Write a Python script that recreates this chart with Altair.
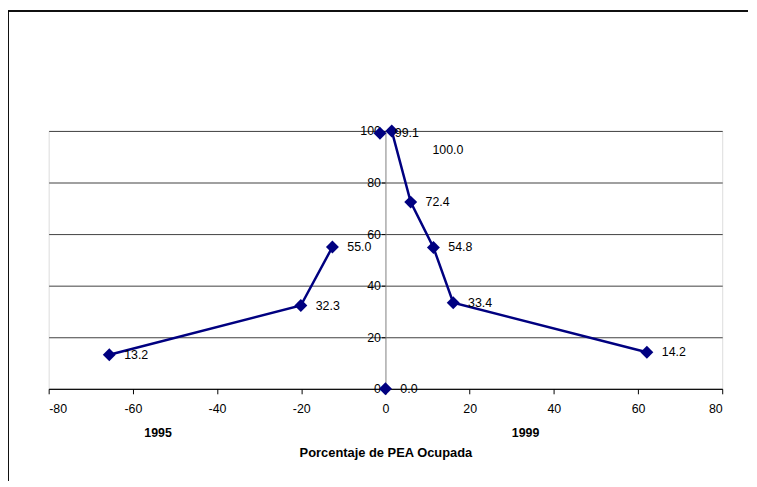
import altair as alt
import pandas as pd

x_vals = [-65.6, -20.1, -12.6, -1.3, 1.5, 6.0, 11.4, 16.1, 62.1, 0.0]
y_vals = [13.2, 32.3, 55.0, 99.1, 100.0, 72.4, 54.8, 33.4, 14.2, 0.0]
groups = ["a", "a", "a", "b", "c", "c", "c", "c", "c", "d"]
labels = ["13.2", "32.3", "55.0", "99.1", "100.0", "72.4", "54.8", "33.4", "14.2", "0.0"]
shifted = [False, False, False, False, True, False, False, False, False, False]
year_names = ["1995", "1999"]
year_pos = [-54.0, 33.3]

df = pd.DataFrame({"x": x_vals, "y": y_vals, "g": groups, "lab": labels,
                   "shift": shifted, "o": list(range(len(x_vals)))})
years = pd.DataFrame({"name": year_names, "x": year_pos})

W, H = 679, 260
FONT = "Liberation Sans"
FS = 12.5
NAVY = "#000080"

xs = alt.Scale(domain=[-80, 80], nice=False)
ys = alt.Scale(domain=[0, 100], nice=False)

base = alt.Chart(df)

frame_top = alt.Chart(years).mark_rule(color="#000000", strokeWidth=1.5).encode(
    x=alt.value(-41), x2=alt.value(W + 26), y=alt.value(-121)
)
frame_left = alt.Chart(years).mark_rule(color="#000000", strokeWidth=1.5).encode(
    x=alt.value(-41), y=alt.value(-121), y2=alt.value(H + 93)
)

line = base.mark_line(color=NAVY, strokeWidth=2.5).encode(
    x=alt.X("x:Q", scale=xs,
            axis=alt.Axis(title="Porcentaje de PEA Ocupada", values=list(range(-80, 81, 20)),
                          labelExpr="toString(datum.value)",
                          grid=False, domainColor="#000000", tickColor="#000000",
                          tickSize=5, labelPadding=9, titlePadding=32,
                          titleFontWeight="bold", titleFont=FONT, titleFontSize=13,
                          labelFont=FONT, labelFontSize=FS, labelColor="#000000",
                          titleColor="#000000")),
    y=alt.Y("y:Q", scale=ys,
            axis=alt.Axis(title=None, values=[0, 20, 40, 60, 80, 100], offset=-339.5,
                          labelExpr="toString(datum.value)",
                          grid=True, gridColor="#404040", gridWidth=1,
                          domainColor="#808080", tickColor="#000000", tickSize=4,
                          labelPadding=1, labelFont=FONT, labelFontSize=FS,
                          labelColor="#000000")),
    detail="g:N",
    order="o:Q",
)

pts = base.mark_point(shape="diamond", filled=True, color=NAVY, size=170, opacity=1).encode(
    x=alt.X("x:Q", scale=xs), y=alt.Y("y:Q", scale=ys)
)

txt = base.transform_filter("!datum.shift").mark_text(
    align="left", baseline="middle", dx=15, font=FONT, fontSize=FS, color="#000000"
).encode(x=alt.X("x:Q", scale=xs), y=alt.Y("y:Q", scale=ys), text="lab:N")

txt2 = base.transform_filter("datum.shift").mark_text(
    align="left", baseline="middle", dx=41, dy=19, font=FONT, fontSize=FS, color="#000000"
).encode(x=alt.X("x:Q", scale=xs), y=alt.Y("y:Q", scale=ys), text="lab:N")

yr = alt.Chart(years).mark_text(
    font=FONT, fontSize=FS, fontWeight="bold", color="#000000", baseline="middle"
).encode(x=alt.X("x:Q", scale=xs), y=alt.value(H + 45), text="name:N")

chart = alt.layer(frame_top, frame_left, line, pts, txt, txt2, yr).properties(
    width=W, height=H,
    autosize=alt.AutoSizeParams(type="none"),
    padding={"left": 41, "top": 122, "right": 27, "bottom": 93},
).configure_view(stroke="#808080", strokeWidth=1).configure(background="#ffffff")

chart.save("out.html", embed_options={"renderer": "svg", "actions": False})
